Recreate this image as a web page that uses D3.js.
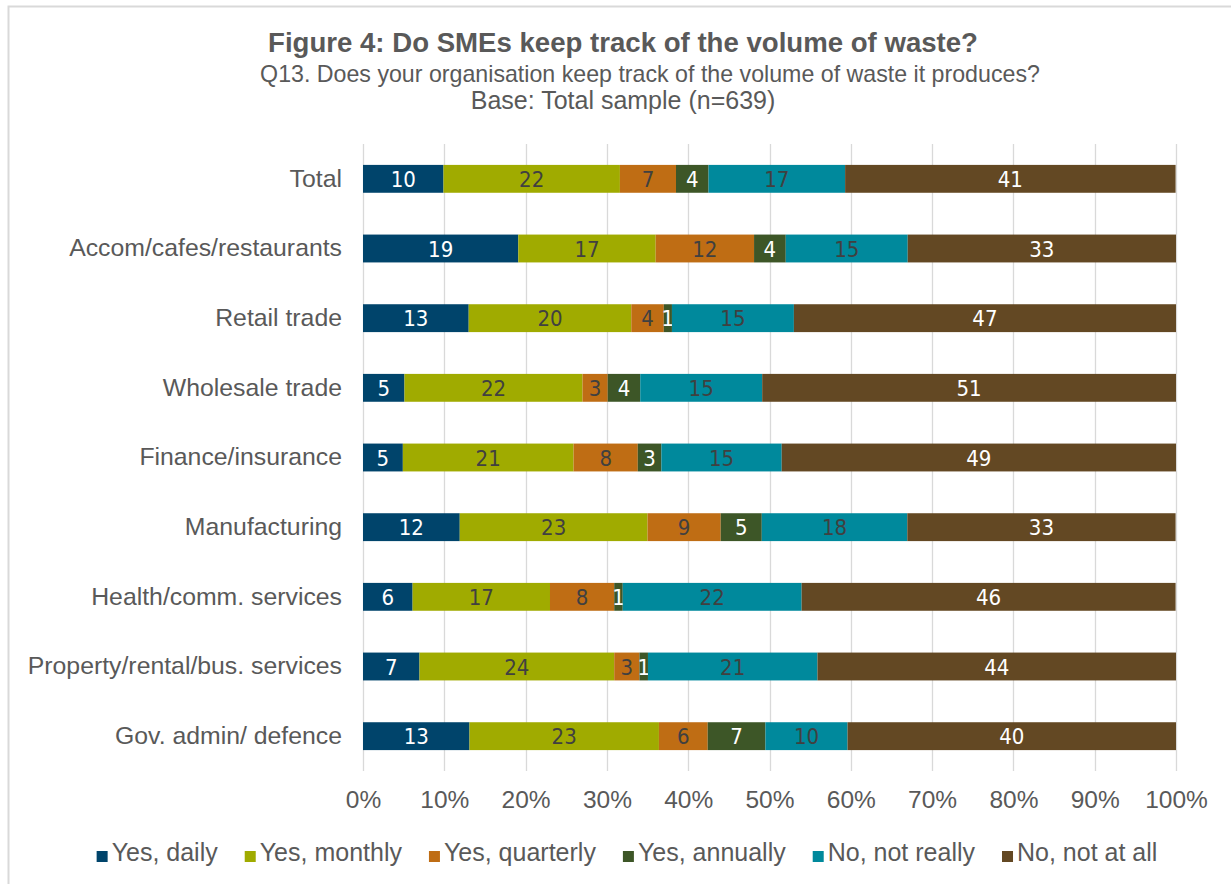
<!DOCTYPE html>
<html>
<head>
<meta charset="utf-8">
<script src="https://cdn.jsdelivr.net/npm/d3@7"></script>
<style>
  body { margin: 0; background: #fff; }
  text { font-family: "Liberation Sans", Arial, sans-serif; }
</style>
</head>
<body>
<svg id="chart"></svg>
<script>
// categories, top to bottom
var categories = ["Total", "Accom/cafes/restaurants", "Retail trade", "Wholesale trade",
  "Finance/insurance", "Manufacturing", "Health/comm. services",
  "Property/rental/bus. services", "Gov. admin/ defence"]

var seriesNames = ["Yes, daily", "Yes, monthly", "Yes, quarterly", "Yes, annually",
  "No, not really", "No, not at all"]

// % of respondents per category, same order as categories
var yesDaily     = [9.9, 19.1, 13.0, 5.1, 4.9, 11.9, 6.1, 6.95, 13.1]
var yesMonthly   = [21.7, 16.9, 20.0, 21.9, 21.0, 23.1, 16.9, 23.95, 23.3]
var yesQuarterly = [6.9, 12.1, 4.0, 3.1, 7.9, 9.0, 7.9, 3.1, 6.0]
var yesAnnually  = [4.0, 3.9, 1.0, 4.0, 2.9, 5.05, 1.05, 1.05, 7.1]
var noNotReally  = [16.8, 15.0, 15.0, 15.0, 14.8, 17.9, 22.0, 20.85, 10.1]
var noNotAtAll   = [40.65, 33.0, 47.0, 50.9, 48.5, 33.0, 46.0, 44.1, 40.4]

var tickValues = [0, 10, 20, 30, 40, 50, 60, 70, 80, 90, 100]

var colors = ["#00446B", "#A0AB00", "#BF6D14", "#3D5627", "#00899C", "#634823"]
var labelColors = ["#ffffff", "#404040", "#404040", "#ffffff", "#404040", "#ffffff"]

var width = 1231
var height = 884

var svg = d3.select("#chart")
  .attr("width", width)
  .attr("height", height)

// outer chart frame
svg.append("rect")
  .attr("x", 8.5).attr("y", 6.5)
  .attr("width", 1240).attr("height", 900)
  .attr("fill", "none")
  .attr("stroke", "#D9D9D9")
  .attr("stroke-width", 2)

// titles
svg.append("text")
  .attr("x", 623).attr("y", 52)
  .attr("text-anchor", "middle")
  .attr("font-size", 27.6).attr("font-weight", "bold")
  .attr("fill", "#595959")
  .text("Figure 4: Do SMEs keep track of the volume of waste?")

svg.append("text")
  .attr("x", 650).attr("y", 82)
  .attr("text-anchor", "middle")
  .attr("font-size", 23.2).attr("fill", "#595959")
  .text("Q13. Does your organisation keep track of the volume of waste it produces?")

svg.append("text")
  .attr("x", 623).attr("y", 109)
  .attr("text-anchor", "middle")
  .attr("font-size", 25).attr("fill", "#595959")
  .text("Base: Total sample (n=639)")

// build rows for the stack
var allSeries = [yesDaily, yesMonthly, yesQuarterly, yesAnnually, noNotReally, noNotAtAll]
var rows = categories.map(function (c, i) {
  var r = { category: c }
  seriesNames.forEach(function (s, j) { r[s] = allSeries[j][i] })
  return r
})

var stacked = d3.stack().keys(seriesNames)(rows)

var x = d3.scaleLinear().domain([0, 100]).range([363, 1176])
var y = d3.scaleBand().domain(categories).range([144, 771])
  .paddingInner(0.6).paddingOuter(0.3)

// vertical gridlines
svg.append("g")
  .selectAll("line")
  .data(tickValues)
  .enter()
  .append("line")
  .attr("x1", function (d) { return Math.round(x(d)) + 0.5 })
  .attr("x2", function (d) { return Math.round(x(d)) + 0.5 })
  .attr("y1", 144).attr("y2", 771)
  .attr("stroke", "#D9D9D9")
  .attr("stroke-width", 1.3)

// bars
var groups = svg.append("g")
  .selectAll("g")
  .data(stacked)
  .enter()
  .append("g")
  .attr("fill", function (d, i) { return colors[i] })

groups.selectAll("rect")
  .data(function (d) { return d })
  .enter()
  .append("rect")
  .attr("x", function (d) { return x(d[0]) })
  .attr("y", function (d) { return y(d.data.category) })
  .attr("width", function (d) { return x(d[1]) - x(d[0]) })
  .attr("height", y.bandwidth())

// data labels
groups.each(function (s, i) {
  d3.select(this).selectAll("text")
    .data(s)
    .enter()
    .append("text")
    .attr("x", function (d) { return (x(d[0]) + x(d[1])) / 2 })
    .attr("y", function (d) { return y(d.data.category) + y.bandwidth() / 2 })
    .attr("dy", "0.37em")
    .attr("text-anchor", "middle")
    .attr("font-size", 22)
    .style("font-family", "'Liberation Sans Narrow', 'DejaVu Sans Condensed', sans-serif")
    .attr("fill", labelColors[i])
    .text(function (d) { return Math.round(d[1] - d[0]) })
})

// category axis
var yAxis = svg.append("g")
  .attr("transform", "translate(363,0)")
  .call(d3.axisLeft(y).tickSize(0).tickPadding(21))
yAxis.select(".domain").remove()
yAxis.selectAll("text")
  .attr("font-size", 24.8)
  .attr("fill", "#595959")
  .style("font-family", "'Liberation Sans', Arial, sans-serif")

// percent axis
var xAxis = svg.append("g")
  .attr("transform", "translate(0,771)")
  .call(d3.axisBottom(x).tickValues(tickValues).tickSize(0).tickPadding(20)
    .tickFormat(function (d) { return d + "%" }))
xAxis.select(".domain").remove()
xAxis.selectAll("text")
  .attr("font-size", 24.5)
  .attr("fill", "#595959")
  .style("font-family", "'Liberation Sans', Arial, sans-serif")

// legend
var legend = svg.append("g")
var items = legend.selectAll("g")
  .data(seriesNames)
  .enter()
  .append("g")

items.append("rect")
  .attr("width", 11).attr("height", 11)
  .attr("y", -10)
  .attr("fill", function (d, i) { return colors[i] })

items.append("text")
  .attr("x", 15)
  .attr("font-size", 25)
  .attr("fill", "#595959")
  .text(function (d) { return d })

var pos = 0
var offsets = []
items.each(function () {
  offsets.push(pos)
  pos += 15 + d3.select(this).select("text").node().getComputedTextLength() + 27
})
var total = pos - 27
var startX = 627 - total / 2
items.attr("transform", function (d, i) { return "translate(" + (startX + offsets[i]) + ",861)" })
</script>
</body>
</html>
